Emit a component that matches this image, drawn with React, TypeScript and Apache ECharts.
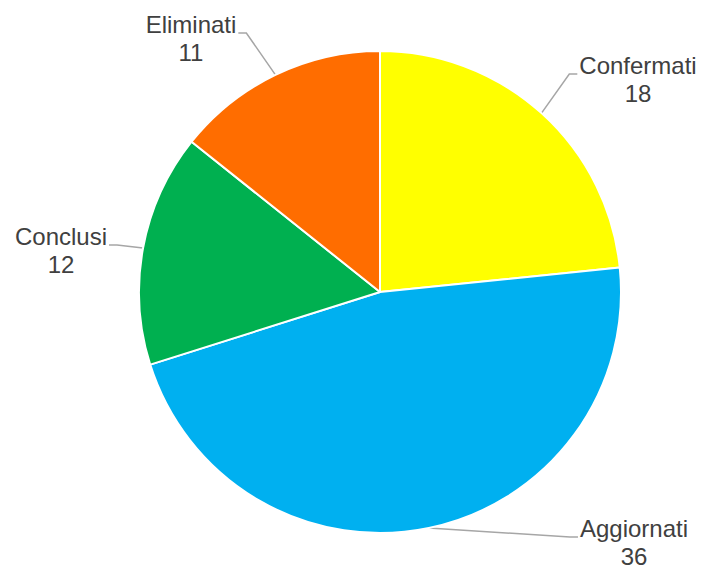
import React, { useEffect, useRef } from "react";
import * as echarts from "echarts";

const categories = ["Confermati", "Aggiornati", "Conclusi", "Eliminati"];
const values = [18, 36, 12, 11];
const colors = ["#FFFF00", "#00B0F0", "#00B050", "#FF6D00"];
// label block centres (layout only)
const labelPos: [number, number][] = [
  [638, 79],
  [634, 542],
  [61, 250],
  [191, 38],
];

const CX = 380;
const CY = 292;
const R = 241;

export default function App() {
  const ref = useRef<HTMLDivElement>(null);
  useEffect(() => {
    if (!ref.current) return;
    const chart = echarts.init(ref.current, null, { renderer: "svg" });
    const total = values.reduce((a, b) => a + b, 0);
    const mids: number[] = [];
    let acc = 0;
    values.forEach((v) => {
      mids.push(((acc + v / 2) / total) * Math.PI * 2);
      acc += v;
    });
    chart.setOption({
      animation: false,
      backgroundColor: "#ffffff",
      series: [
        {
          type: "pie",
          center: [CX, CY],
          radius: R,
          startAngle: 90,
          clockwise: true,
          avoidLabelOverlap: false,
          data: categories.map((c, i) => ({
            name: c,
            value: values[i],
            itemStyle: { color: colors[i] },
          })),
          itemStyle: { borderColor: "#ffffff", borderWidth: 2 },
          label: {
            show: true,
            formatter: "{b}\n{c}",
            fontFamily: "Liberation Sans",
            fontSize: 24,
            lineHeight: 28,
            color: "#404040",
          },
          labelLine: {
            show: true,
            lineStyle: { color: "#A6A6A6", width: 1.5 },
          },
          emphasis: { disabled: true },
          labelLayout: (params: any) => {
            const i = params.dataIndex;
            const [lx, ly] = labelPos[i];
            const w = params.labelRect.width;
            const a = mids[i];
            const sx = CX + R * Math.sin(a);
            const sy = CY - R * Math.cos(a);
            const right = lx > CX;
            const edgeX = right ? lx - w / 2 - 2 : lx + w / 2 + 2;
            const elbowX = right ? edgeX - 8 : edgeX + 8;
            const lineY = ly - 5;
            return {
              x: lx,
              y: ly,
              align: "center",
              verticalAlign: "middle",
              labelLinePoints: [
                [sx, sy],
                [elbowX, lineY],
                [edgeX, lineY],
              ],
            };
          },
        },
      ],
    });
    return () => chart.dispose();
  }, []);
  return (
    <div
      ref={ref}
      style={{ position: "absolute", left: 0, top: 0, width: 708, height: 569 }}
    />
  );
}
